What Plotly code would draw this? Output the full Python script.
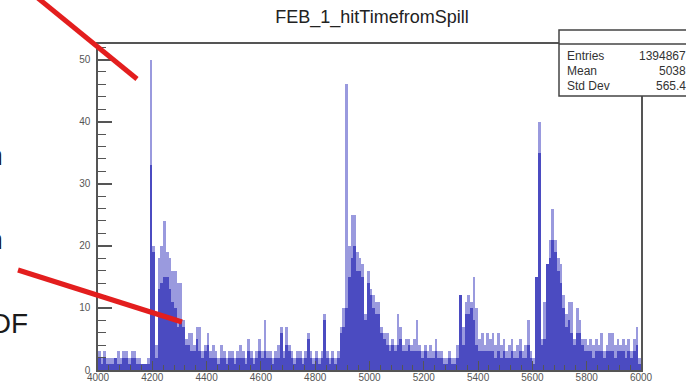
import plotly.graph_objects as go

# ---------------- data ----------------
title_text = "FEB_1_hitTimefromSpill"
bin_start = 4000
bin_width = 10

# lighter (peak) heights per 10-unit bin, 4000..6000
peak_counts = [3, 2, 3, 2, 2, 2, 2, 3, 2, 3, 3, 2, 3, 3, 2, 2, 1, 1, 2,
               50, 20, 4,
               18, 20, 24, 19, 18, 16, 16, 14, 14,
               8, 5, 6, 6, 4, 7, 7, 3, 4, 6,
               3, 4, 3, 2, 4, 3, 2, 3, 3, 2,
               3, 4, 3, 2, 5, 3, 2, 3, 5, 3,
               8, 3, 3, 2, 3, 4, 7, 3, 7, 4,
               3, 2, 3, 3, 2, 3, 6, 3, 2, 3,
               2, 3, 9, 3, 2, 3, 2, 3, 7, 10,
               46, 20, 25, 25, 19, 18, 17, 9, 16, 13,
               12, 11, 11, 7, 6, 6, 4, 5, 4, 9,
               7, 4, 5, 5, 4, 5, 8, 4, 3, 4,
               3, 4, 3, 5, 3, 3, 2, 2, 3, 2,
               2, 4, 12, 7, 11, 12, 11, 15, 10, 5,
               6, 4, 6, 5, 6, 4, 6, 4, 5, 3,
               4, 5, 3, 4, 5, 3, 4, 8, 3, 2,
               15, 40, 5, 11, 17, 21, 26, 21, 18, 17,
               12, 9, 11, 11, 5, 10, 8, 5, 5, 4,
               5, 4, 5, 4, 6, 3, 4, 6, 6, 4,
               5, 4, 5, 4, 5, 3, 5, 7, 2]

# darker (base) heights per bin
base_counts = [2, 1, 2, 1, 1, 1, 2, 1, 1, 2, 2, 1, 2, 2, 1, 1, 1, 1, 1,
               33, 19, 2,
               13, 14, 15, 15, 13, 11, 10, 7, 8,
               7, 4, 4, 3, 3, 5, 3, 2, 3, 4,
               2, 2, 2, 1, 2, 2, 1, 2, 2, 1,
               2, 2, 2, 1, 3, 2, 1, 2, 3, 2,
               3, 2, 2, 1, 2, 2, 6, 2, 4, 3,
               2, 1, 2, 2, 1, 2, 5, 2, 1, 2,
               1, 2, 8, 2, 1, 2, 1, 2, 6, 7,
               10, 15, 18, 20, 16, 16, 15, 8, 14, 12,
               10, 9, 9, 6, 5, 4, 3, 4, 3, 4,
               5, 3, 3, 4, 3, 3, 3, 3, 2, 3,
               2, 2, 2, 3, 2, 2, 1, 1, 2, 1,
               1, 2, 12, 4, 9, 9, 10, 8, 4, 3,
               3, 3, 3, 3, 3, 2, 3, 2, 3, 2,
               2, 3, 2, 2, 3, 2, 2, 4, 2, 1,
               15, 35, 4, 5, 17, 18, 21, 19, 16, 14,
               10, 7, 8, 6, 4, 6, 6, 4, 3, 3,
               3, 2, 3, 3, 3, 2, 3, 3, 3, 2,
               3, 3, 3, 2, 3, 2, 3, 4, 1]

x_ticks = [4000, 4200, 4400, 4600, 4800, 5000, 5200, 5400, 5600, 5800, 6000]
y_ticks = [0, 10, 20, 30, 40, 50]

stats_labels = ["Entries", "Mean", "Std Dev"]
stats_values = ["1394867", "5038", "565.4"]

side_texts = ["in", "in", "PDF"]

# ---------------- layout geometry ----------------
W, H = 686, 387
L, R, T, B = 98, 45, 44, 17
PW, PH = W - L - R, H - T - B


def px_x(px):
    return (px - L) / PW


def px_y(py):
    return (H - B - py) / PH


centers = [bin_start + bin_width * (i + 0.5) for i in range(len(peak_counts))]

FONT = "Liberation Sans, Arial, Helvetica, sans-serif"
AXIS_COL = "#555555"

fig = go.Figure()
fig.add_trace(go.Bar(x=centers, y=peak_counts, width=bin_width,
                     marker=dict(color="#9a9ade", line=dict(width=0)),
                     showlegend=False, hoverinfo="skip"))
fig.add_trace(go.Bar(x=centers, y=base_counts, width=bin_width,
                     marker=dict(color="#4b4bc1", line=dict(width=0)),
                     showlegend=False, hoverinfo="skip"))

fig.update_layout(
    template="none",
    width=W, height=H,
    margin=dict(l=L, r=R, t=T, b=B, autoexpand=False),
    paper_bgcolor="white", plot_bgcolor="white",
    barmode="overlay", bargap=0,
    showlegend=False,
    font=dict(family=FONT, color="#333333"),
    title=dict(text=title_text, x=372 / W, y=1 - 17 / H, xanchor="center",
               yanchor="middle", xref="container",
               font=dict(family=FONT, size=18, color="#222222")),
)

fig.update_xaxes(
    range=[4000, 6000], tickvals=x_ticks, ticktext=[str(v) for v in x_ticks],
    showgrid=False, zeroline=False, automargin=False,
    showline=True, mirror=True, linecolor=AXIS_COL, linewidth=1.5,
    ticks="inside", ticklen=9, tickcolor=AXIS_COL, tickwidth=1,
    minor=dict(ticks="inside", dtick=40, ticklen=5, tickcolor=AXIS_COL),
    tickfont=dict(family=FONT, size=10, color="#555555"),
    ticklabelstandoff=-3,
)
fig.update_yaxes(
    range=[0, 52.5], tickvals=y_ticks, ticktext=[str(v) for v in y_ticks],
    showgrid=False, zeroline=False, automargin=False,
    showline=True, mirror=True, linecolor=AXIS_COL, linewidth=1.5,
    ticks="inside", ticklen=14, tickcolor=AXIS_COL, tickwidth=1.5,
    minor=dict(ticks="inside", dtick=2, ticklen=8, tickcolor=AXIS_COL, tickwidth=1.2),
    tickfont=dict(family=FONT, size=10, color="#555555"),
    ticklabelstandoff=4,
)

shapes = []
# stats box
shapes.append(dict(type="rect", xref="paper", yref="paper",
                   x0=px_x(559), x1=px_x(730), y0=px_y(96), y1=px_y(30),
                   fillcolor="white", line=dict(color="#444444", width=1.5),
                   layer="above"))
shapes.append(dict(type="line", xref="paper", yref="paper",
                   x0=px_x(559), x1=px_x(730), y0=1, y1=1,
                   line=dict(color="#444444", width=1.5), layer="above"))
# red marker strokes
shapes.append(dict(type="line", xref="paper", yref="paper",
                   x0=px_x(28), y0=px_y(-10), x1=px_x(137), y1=px_y(79),
                   line=dict(color="#e31e1e", width=5), layer="above"))
shapes.append(dict(type="line", xref="paper", yref="paper",
                   x0=px_x(18), y0=px_y(270), x1=px_x(182), y1=px_y(322),
                   line=dict(color="#e31e1e", width=5), layer="above"))
fig.update_layout(shapes=shapes)

ann = []
stat_rows_y = [56, 71, 86]
for lab, val, yy in zip(stats_labels, stats_values, stat_rows_y):
    ann.append(dict(xref="paper", yref="paper", x=px_x(565), y=px_y(yy),
                    xanchor="left", yanchor="middle", text=lab, showarrow=False,
                    font=dict(family=FONT, size=12, color="#333333")))
    ann.append(dict(xref="paper", yref="paper", x=px_x(688), y=px_y(yy),
                    xanchor="right", yanchor="middle", text=val, showarrow=False,
                    font=dict(family=FONT, size=12, color="#333333")))

side_pos = [(5, 155), (5, 239), (30, 323)]
for txt, (sx, sy) in zip(side_texts, side_pos):
    ann.append(dict(xref="paper", yref="paper", x=px_x(sx), y=px_y(sy),
                    xanchor="right", yanchor="middle", text=txt, showarrow=False,
                    font=dict(family="Liberation Sans, Arial, sans-serif", size=28,
                              color="#1a1a1a")))
fig.update_layout(annotations=ann)

fig.write_html("out.html")
